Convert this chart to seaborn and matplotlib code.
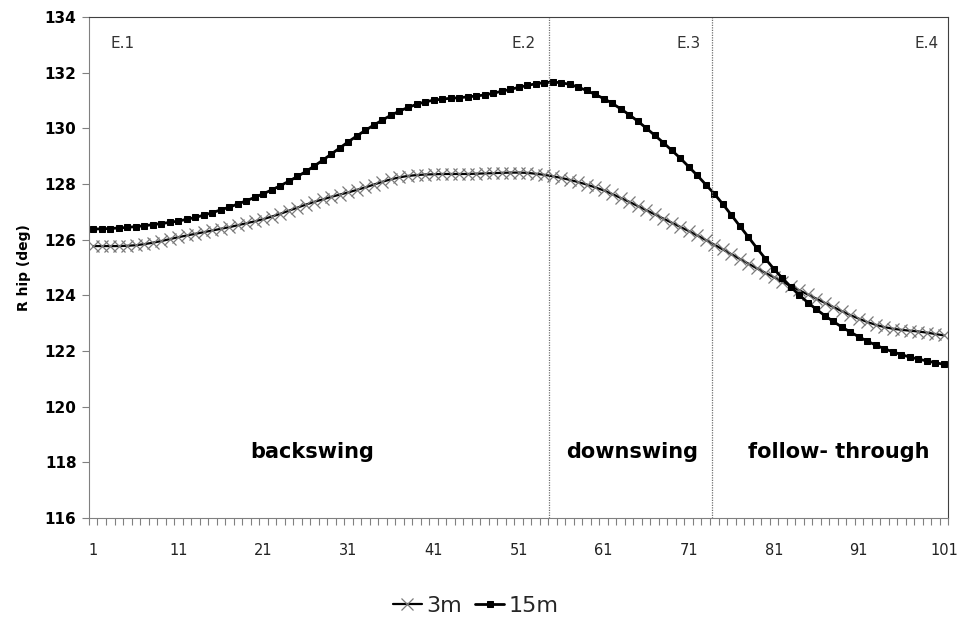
import matplotlib
matplotlib.use("Agg")
from matplotlib import pyplot as plt
import seaborn as sns
import pandas as pd

frames = list(range(1, 102))

hip_3m = [
    125.77, 125.77, 125.77, 125.77, 125.78, 125.80, 125.84, 125.89, 125.95, 126.02,
    126.09, 126.15, 126.21, 126.27, 126.33, 126.39, 126.45, 126.52, 126.59, 126.66,
    126.74, 126.83, 126.93, 127.04, 127.15, 127.26, 127.36, 127.45, 127.54, 127.62,
    127.70, 127.79, 127.88, 127.98, 128.08, 128.17, 128.24, 128.29, 128.32, 128.34,
    128.35, 128.36, 128.36, 128.36, 128.36, 128.37, 128.38, 128.39, 128.40, 128.41,
    128.41, 128.40, 128.37, 128.33, 128.28, 128.22, 128.15, 128.07, 127.98, 127.88,
    127.77, 127.64, 127.50, 127.36, 127.21, 127.06, 126.91, 126.76, 126.61, 126.46,
    126.31, 126.15, 125.99, 125.82, 125.65, 125.48, 125.31, 125.14, 124.97, 124.81,
    124.65, 124.49, 124.33, 124.18, 124.03, 123.88, 123.73, 123.58, 123.43, 123.29,
    123.16, 123.04, 122.94, 122.86, 122.80, 122.76, 122.73, 122.70, 122.66, 122.61,
    122.56,
]

hip_15m = [
    126.38, 126.39, 126.40, 126.42, 126.44, 126.47, 126.50, 126.54, 126.58, 126.62,
    126.67, 126.73, 126.80, 126.88, 126.97, 127.07, 127.17, 127.28, 127.40, 127.52,
    127.65, 127.79, 127.94, 128.10, 128.27, 128.45, 128.65, 128.86, 129.08, 129.30,
    129.52, 129.73, 129.93, 130.12, 130.30, 130.47, 130.62, 130.75, 130.86, 130.95,
    131.01, 131.05, 131.08, 131.10, 131.13, 131.16, 131.20, 131.26, 131.33, 131.40,
    131.47, 131.54, 131.60, 131.64, 131.66, 131.64, 131.58, 131.48, 131.36, 131.22,
    131.07, 130.90, 130.70, 130.49, 130.26, 130.01, 129.75, 129.49, 129.21, 128.93,
    128.62, 128.31, 127.98, 127.65, 127.28, 126.89, 126.49, 126.10, 125.70, 125.32,
    124.95, 124.62, 124.30, 124.01, 123.74, 123.50, 123.27, 123.06, 122.86, 122.68,
    122.51, 122.35, 122.21, 122.08, 121.97, 121.87, 121.78, 121.71, 121.64, 121.58,
    121.52,
]

event_lines = [54.6, 73.7]
event_labels = ["E.1", "E.2", "E.3", "E.4"]
event_label_x = [4.4, 51.6, 71.0, 98.9]
phase_labels = ["backswing", "downswing", "follow- through"]
phase_label_x = [26.7, 64.4, 88.6]
x_labels = list(range(1, 102, 10))

df = pd.DataFrame({"frame": frames, "3m": hip_3m, "15m": hip_15m})

sns.set_style("white")
plt.rcParams["font.family"] = ["DejaVu Sans"]

fig = plt.figure(figsize=(9.6, 6.25), dpi=100)
ax = fig.add_axes([0.0927, 0.1712, 0.895, 0.8016])

sns.lineplot(data=df, x="frame", y="3m", ax=ax, color="black", linewidth=1.6,
             marker="x", markersize=8, markeredgecolor="#7a7a7a",
             markeredgewidth=0.9, label="3m")
sns.lineplot(data=df, x="frame", y="15m", ax=ax, color="black", linewidth=2.0,
             marker="s", markersize=4.3, markeredgecolor="black", label="15m")

for xv in event_lines:
    ax.axvline(xv, color="#707070", linestyle=(0, (1, 1)), linewidth=0.9)

for lab, xv in zip(event_labels, event_label_x):
    ax.text(xv, 133.05, lab, ha="center", va="center", fontsize=11,
            color="#333333")

for lab, xv in zip(phase_labels, phase_label_x):
    ax.text(xv, 118.37, lab, ha="center", va="center", fontsize=15,
            fontweight="bold", color="black")

ax.set_xlim(0.5, 101.5)
ax.set_ylim(116, 134)
ax.set_yticks(range(116, 135, 2))
ax.set_xticks(x_labels)
ax.set_xticks([i + 0.5 for i in range(0, 102)], minor=True)
ax.tick_params(axis="x", which="major", bottom=True, length=0, pad=18,
               labelsize=10.5, labelcolor="#222222")
ax.tick_params(axis="x", which="minor", bottom=True, length=5,
               direction="out", color="#808080", width=0.8)
ax.tick_params(axis="y", which="major", left=True, length=5, direction="out",
               color="#808080", labelsize=11, pad=4, labelcolor="black")
for lab in ax.get_yticklabels():
    lab.set_fontweight("bold")

ax.set_xlabel("")
ax.set_ylabel("R hip (deg)", fontsize=10, fontweight="bold", labelpad=10,
              color="black")

for side in ["left", "bottom"]:
    ax.spines[side].set_color("#808080")
for side in ["top", "right"]:
    ax.spines[side].set_color("#404040")

handles, labels = ax.get_legend_handles_labels()
ax.legend(handles, labels, loc="center", bbox_to_anchor=(0.45, -0.175),
          ncol=2, frameon=False, handlelength=1.3,
          handletextpad=0.2, columnspacing=0.6, prop={"size": 16})

fig.savefig("out.png", dpi=100)
